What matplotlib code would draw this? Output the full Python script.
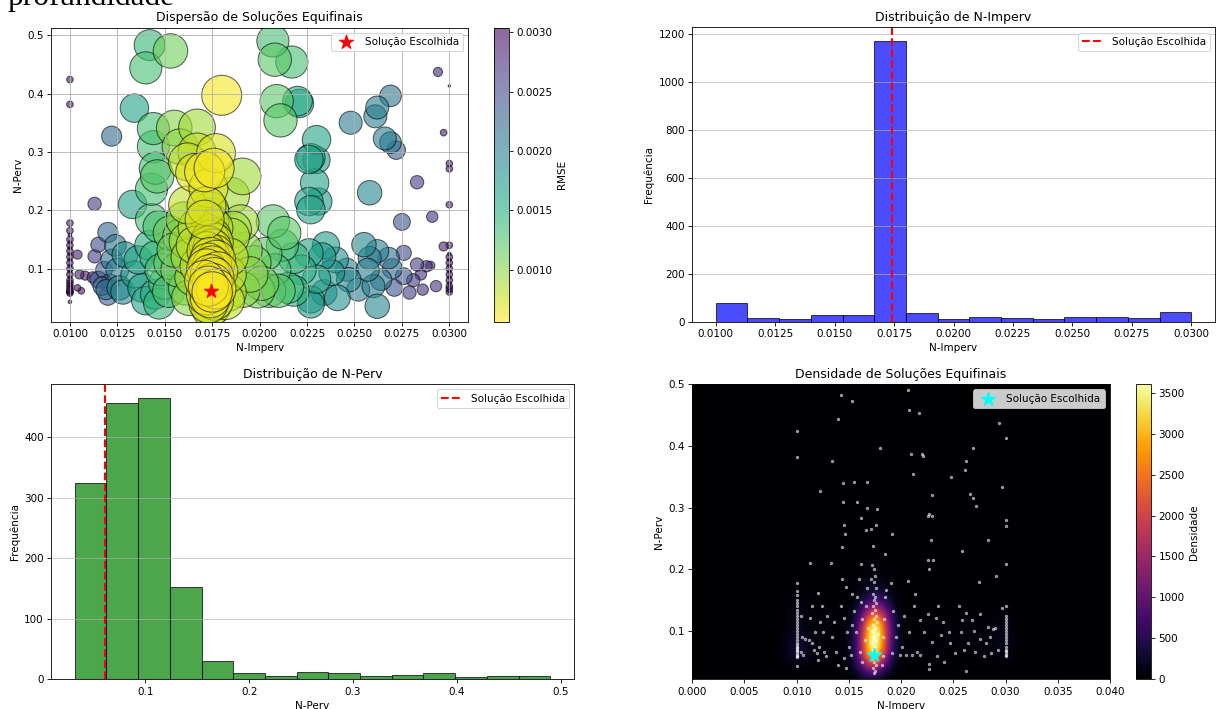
"""Equifinal solutions for N-Imperv / N-Perv: scatter, marginals and density."""

import matplotlib

matplotlib.use("Agg")
import matplotlib.pyplot as plt
import numpy as np

# chosen (best) solution
best_imperv, best_perv = 0.01743, 0.0613

# tight column of near-identical solutions around the best N-Imperv
core_imperv = [0.0174, 0.0175, 0.0173, 0.0176, 0.0174, 0.0172, 0.0175, 0.0177, 0.0173, 0.0175,
               0.0171, 0.0176, 0.0174, 0.0178, 0.0172, 0.0175, 0.0173, 0.0177, 0.0174, 0.0176,
               0.0172, 0.0175, 0.0173, 0.0176, 0.0174, 0.0175, 0.0173, 0.0176, 0.0174, 0.0175, 0.0174]
core_perv = [0.032, 0.036, 0.040, 0.045, 0.050, 0.055, 0.060, 0.065, 0.070, 0.075,
             0.080, 0.085, 0.090, 0.095, 0.100, 0.105, 0.110, 0.115, 0.120, 0.125,
             0.130, 0.135, 0.140, 0.145, 0.150, 0.155, 0.160, 0.170, 0.180, 0.190, 0.200]
core_rmse = [0.00080, 0.00080, 0.00070, 0.00070, 0.00060, 0.00060, 0.00056, 0.00060, 0.00060, 0.00060,
             0.00060, 0.00062, 0.00062, 0.00063, 0.00064, 0.00065, 0.00066, 0.00067, 0.00068, 0.00070,
             0.00070, 0.00072, 0.00074, 0.00075, 0.00077, 0.00080, 0.00080, 0.00082, 0.00085, 0.00090, 0.00090]
core_count = [3, 6, 15, 25, 45, 60, 86, 60, 60, 62, 62, 62, 61, 65, 66, 64, 64, 62, 62, 30,
              26, 20, 16, 12, 8, 6, 5, 4, 3, 2, 2]

# solutions stuck at the lower bound N-Imperv = 0.010
low_perv = [0.043, 0.058, 0.060, 0.062, 0.065, 0.068, 0.070, 0.073, 0.075, 0.078,
            0.080, 0.085, 0.090, 0.095, 0.100, 0.105, 0.110, 0.115, 0.120, 0.125,
            0.130, 0.135, 0.140, 0.145, 0.150, 0.158, 0.165, 0.178, 0.3815, 0.424]
low_rmse = [0.0030, 0.0029, 0.0029, 0.0029, 0.0029, 0.0030, 0.0029, 0.0030, 0.0029, 0.0030,
            0.0029, 0.0030, 0.0029, 0.0030, 0.0029, 0.0030, 0.0029, 0.0030, 0.0029, 0.0030,
            0.0029, 0.0030, 0.0029, 0.0030, 0.0029, 0.0030, 0.0029, 0.0029, 0.0029, 0.0029]
low_count = [1, 3, 6, 4, 4, 3, 3, 2, 3, 2, 3, 2, 2, 2, 3, 2, 2, 2, 2, 2,
             2, 2, 2, 1, 1, 1, 1, 1, 1, 1]

# solutions stuck at the upper bound N-Imperv = 0.030
high_perv = [0.060, 0.062, 0.065, 0.068, 0.070, 0.075, 0.080, 0.085, 0.090, 0.095,
             0.100, 0.105, 0.110, 0.115, 0.120, 0.125, 0.140, 0.2095, 0.271, 0.280, 0.413]
high_rmse = [0.0029, 0.0030, 0.0029, 0.0030, 0.0029, 0.0030, 0.0029, 0.0030, 0.0029, 0.0030,
             0.0029, 0.0030, 0.0029, 0.0030, 0.0029, 0.0030, 0.0029, 0.0029, 0.0029, 0.0029, 0.00304]
high_count = [4, 2, 2, 1, 2, 2, 2, 2, 2, 1, 2, 2, 2, 2, 1, 1, 1, 1, 1, 1, 1]

# remaining scattered solutions
spread_imperv = [
    0.0142, 0.0153, 0.0140, 0.0180, 0.0134, 0.0122, 0.0144, 0.0155, 0.0167, 0.0144,
    0.0158, 0.0167, 0.0177, 0.0162, 0.0176, 0.0145, 0.0191, 0.0146, 0.0166, 0.0171,
    0.0185, 0.0173, 0.0162, 0.0172, 0.0143, 0.0207, 0.0208, 0.0217, 0.0209, 0.0220,
    0.0221, 0.0211, 0.0248, 0.0262, 0.0269, 0.0261, 0.0266, 0.0269, 0.0272, 0.0230,
    0.0227, 0.0230, 0.0226, 0.0229, 0.0226, 0.0231, 0.0227, 0.0258, 0.0283, 0.0291,
    0.0275, 0.0294, 0.0297, 0.0207, 0.0213, 0.0133, 0.0113, 0.0143, 0.0147, 0.0120,
    0.0160, 0.0171, 0.0190, 0.0186, 0.0153, 0.0158, 0.0185,
    0.0104, 0.0105, 0.0108, 0.0112, 0.0104, 0.0106, 0.0113, 0.0115, 0.0118, 0.0115,
    0.0119, 0.0117, 0.0121, 0.0122, 0.0120, 0.0125, 0.0126, 0.0129, 0.0128, 0.0124,
    0.0136, 0.0138, 0.0134, 0.0140, 0.0145, 0.0145, 0.0148, 0.0142, 0.0150, 0.0152,
    0.0155, 0.0153, 0.0147, 0.0157,
    0.0161, 0.0162, 0.0163, 0.0165, 0.0163, 0.0167, 0.0168, 0.0166,
    0.0183, 0.0182, 0.0184, 0.0183, 0.0191, 0.0192, 0.0195, 0.0197, 0.0199, 0.0201,
    0.0203, 0.0205, 0.0208, 0.0210, 0.0212,
    0.0215, 0.0218, 0.0218, 0.0222, 0.0226, 0.0227, 0.0227, 0.0230, 0.0233, 0.0234,
    0.0235, 0.0238, 0.0240, 0.0241,
    0.0247, 0.0246, 0.0252, 0.0255, 0.0258, 0.0257, 0.0260, 0.0262, 0.0264, 0.0262,
    0.0268, 0.0270, 0.0271, 0.0276, 0.0276,
    0.0279, 0.0283, 0.0286, 0.0288, 0.0293, 0.0281, 0.0285, 0.0290, 0.0297,
]
spread_perv = [
    0.483, 0.473, 0.444, 0.397, 0.375, 0.327, 0.340, 0.341, 0.342, 0.309,
    0.309, 0.300, 0.298, 0.283, 0.272, 0.272, 0.258, 0.258, 0.264, 0.266,
    0.225, 0.238, 0.209, 0.207, 0.236, 0.490, 0.458, 0.454, 0.387, 0.387,
    0.383, 0.354, 0.350, 0.376, 0.396, 0.361, 0.323, 0.316, 0.303, 0.321,
    0.290, 0.286, 0.287, 0.247, 0.215, 0.215, 0.201, 0.230, 0.248, 0.189,
    0.180, 0.437, 0.333, 0.181, 0.161, 0.210, 0.211, 0.184, 0.172, 0.162,
    0.184, 0.184, 0.178, 0.167, 0.161, 0.155, 0.155,
    0.124, 0.090, 0.088, 0.085, 0.067, 0.062, 0.121, 0.141, 0.098, 0.081,
    0.064, 0.070, 0.075, 0.115, 0.053, 0.098, 0.067, 0.124, 0.060, 0.140,
    0.115, 0.067, 0.090, 0.045, 0.121, 0.056, 0.098, 0.140, 0.075, 0.061,
    0.132, 0.110, 0.040, 0.098,
    0.067, 0.147, 0.120, 0.085, 0.050, 0.170, 0.105, 0.140,
    0.059, 0.045, 0.120, 0.090, 0.064, 0.132, 0.090, 0.110, 0.062, 0.075,
    0.125, 0.062, 0.098, 0.062, 0.140,
    0.067, 0.118, 0.062, 0.098, 0.127, 0.047, 0.0385, 0.082, 0.121, 0.059,
    0.140, 0.093, 0.115, 0.050,
    0.081, 0.098, 0.064, 0.141, 0.118, 0.098, 0.070, 0.0356, 0.081, 0.130,
    0.118, 0.100, 0.067, 0.087, 0.127,
    0.059, 0.107, 0.064, 0.104, 0.070, 0.080, 0.090, 0.105, 0.138,
]
spread_rmse = [
    0.0014, 0.0011, 0.0013, 0.0006, 0.0016, 0.0022, 0.0013, 0.0010, 0.0009, 0.0013,
    0.0010, 0.0008, 0.0007, 0.0008, 0.0006, 0.0013, 0.0009, 0.0012, 0.0007, 0.0006,
    0.0009, 0.0007, 0.0008, 0.0007, 0.0013, 0.0013, 0.0012, 0.0013, 0.0012, 0.0015,
    0.0016, 0.0012, 0.0020, 0.0020, 0.0021, 0.0020, 0.0020, 0.0021, 0.0023, 0.0016,
    0.0016, 0.0017, 0.0016, 0.0016, 0.0016, 0.0017, 0.0016, 0.0019, 0.0026, 0.0027,
    0.0024, 0.0028, 0.0029, 0.0012, 0.0012, 0.0016, 0.0026, 0.0013, 0.0013, 0.0022,
    0.0010, 0.0007, 0.0009, 0.0009, 0.0011, 0.0011, 0.0009,
    0.0028, 0.0028, 0.0028, 0.0027, 0.0029, 0.0029, 0.0026, 0.0025, 0.0024, 0.0024,
    0.0022, 0.0023, 0.0023, 0.0021, 0.0023, 0.0020, 0.0019, 0.0018, 0.0019, 0.0021,
    0.0016, 0.0016, 0.0017, 0.0016, 0.0014, 0.0015, 0.0013, 0.0015, 0.0013, 0.0013,
    0.0011, 0.0012, 0.0014, 0.0011,
    0.0011, 0.0009, 0.0009, 0.0009, 0.0010, 0.0008, 0.0008, 0.0008,
    0.0008, 0.0008, 0.0008, 0.0008, 0.0010, 0.0010, 0.0010, 0.0011, 0.0011, 0.0011,
    0.0012, 0.0012, 0.0013, 0.0012, 0.0013,
    0.0014, 0.0014, 0.0014, 0.0015, 0.0016, 0.0017, 0.0017, 0.0016, 0.0017, 0.0018,
    0.0017, 0.0018, 0.0018, 0.0018,
    0.0019, 0.0020, 0.0020, 0.0019, 0.0020, 0.0020, 0.0020, 0.0019, 0.0021, 0.0020,
    0.0021, 0.0022, 0.0024, 0.0024, 0.0025,
    0.0026, 0.0026, 0.0027, 0.0027, 0.0027, 0.0026, 0.0027, 0.0028, 0.0028,
]

# histogram counts (15 bins each)
imperv_counts = [77, 14, 10, 26, 26, 1169, 35, 11, 18, 14, 11, 18, 18, 14, 42]
perv_counts = [324, 457, 464, 152, 30, 11, 5, 12, 11, 6, 7, 11, 3, 5, 6]

LABEL = "Solução Escolhida"


def main() -> None:
    xs = np.concatenate([core_imperv, np.full(len(low_perv), 0.010),
                         np.full(len(high_perv), 0.030), spread_imperv])
    ys = np.concatenate([core_perv, low_perv, high_perv, spread_perv])
    rm = np.concatenate([core_rmse, low_rmse, high_rmse, spread_rmse])
    wt = np.concatenate([core_count, low_count, high_count,
                         np.ones(len(spread_perv), dtype=int)])

    # worst first so the good (big, yellow) ones end up on top
    order = np.argsort(-rm)
    xs, ys, rm, wt = xs[order], ys[order], rm[order], wt[order]

    rmin, rmax = rm.min(), rm.max()
    sizes = 5 + 1500 * ((rmax - rm) / (rmax - rmin)) ** 1.3

    fig = plt.figure(figsize=(1216 / 75, 709 / 75), dpi=75)
    fig.text(0.006, 1 - 5 / 709, "profundidade", family="Liberation Serif",
             fontsize=30, va="baseline", ha="left")

    # --- scatter
    ax1 = fig.add_axes([0.0419, 0.5463, 0.3432, 0.4147])
    cax1 = fig.add_axes([0.4062, 0.5463, 0.01275, 0.4147])
    sc = ax1.scatter(xs, ys, c=rm, s=sizes, cmap="viridis_r", alpha=0.6,
                     edgecolors="black", linewidths=1)
    ax1.scatter([best_imperv], [best_perv], marker="*", color="red", s=200,
                label=LABEL, zorder=5)
    cb1 = fig.colorbar(sc, cax=cax1)
    cb1.set_label("RMSE")
    ax1.set_xlabel("N-Imperv")
    ax1.set_ylabel("N-Perv")
    ax1.set_title("Dispersão de Soluções Equifinais")
    ax1.legend(loc="upper right")
    ax1.grid(True)

    # --- N-Imperv marginal
    ax2 = fig.add_axes([0.5691, 0.5463, 0.4301, 0.415])
    edges_i = np.linspace(xs.min(), xs.max(), len(imperv_counts) + 1)
    ax2.hist(edges_i[:-1], bins=edges_i, weights=imperv_counts, color="blue",
             alpha=0.7, edgecolor="black")
    ax2.axvline(best_imperv, color="red", linestyle="--", linewidth=2, label=LABEL)
    ax2.set_xlabel("N-Imperv")
    ax2.set_ylabel("Frequência")
    ax2.set_title("Distribuição de N-Imperv")
    ax2.legend(loc="upper right")
    ax2.grid(axis="y", alpha=0.75)

    # --- N-Perv marginal
    ax3 = fig.add_axes([0.0419, 0.0419, 0.4302, 0.4161])
    edges_p = np.linspace(ys.min(), ys.max(), len(perv_counts) + 1)
    ax3.hist(edges_p[:-1], bins=edges_p, weights=perv_counts, color="green",
             alpha=0.7, edgecolor="black")
    ax3.axvline(best_perv, color="red", linestyle="--", linewidth=2, label=LABEL)
    ax3.set_xlabel("N-Perv")
    ax3.set_ylabel("Frequência")
    ax3.set_title("Distribuição de N-Perv")
    ax3.legend(loc="upper right")
    ax3.grid(axis="y", alpha=0.75)

    # --- gaussian KDE (Scott's rule), weights = number of repeated solutions
    n = wt.sum()
    cov = np.cov(np.vstack([xs, ys]), fweights=wt) * n ** (-1 / 3)
    inv = np.linalg.inv(cov)
    const = 1 / (2 * np.pi * np.sqrt(np.linalg.det(cov)))
    y0, y1 = ys.min() - 0.01, ys.max() + 0.01
    gx, gy = np.meshgrid(np.linspace(0, 0.04, 200), np.linspace(y0, y1, 200))
    dens = np.zeros_like(gx)
    for px, py, w in zip(xs, ys, wt):
        dx, dy = gx - px, gy - py
        q = inv[0, 0] * dx * dx + 2 * inv[0, 1] * dx * dy + inv[1, 1] * dy * dy
        dens += w * np.exp(-0.5 * q)
    dens *= const / n

    ax4 = fig.add_axes([0.5693, 0.0419, 0.3435, 0.4161])
    cax4 = fig.add_axes([0.9345, 0.0419, 0.0123, 0.4161])
    im = ax4.imshow(dens, origin="lower", extent=[0, 0.04, y0, y1], aspect="auto",
                    cmap="inferno")
    ax4.scatter(xs, ys, color="white", s=5, alpha=0.5)
    ax4.scatter([best_imperv], [best_perv], marker="*", color="cyan", s=200,
                label=LABEL, zorder=5)
    cb4 = fig.colorbar(im, cax=cax4)
    cb4.set_label("Densidade")
    ax4.set_xlim(0, 0.04)
    ax4.set_ylim(y0, y1)
    ax4.set_xlabel("N-Imperv")
    ax4.set_ylabel("N-Perv")
    ax4.set_title("Densidade de Soluções Equifinais")
    ax4.legend(loc="upper right")

    fig.savefig("out.png", dpi=75)


if __name__ == "__main__":
    main()
